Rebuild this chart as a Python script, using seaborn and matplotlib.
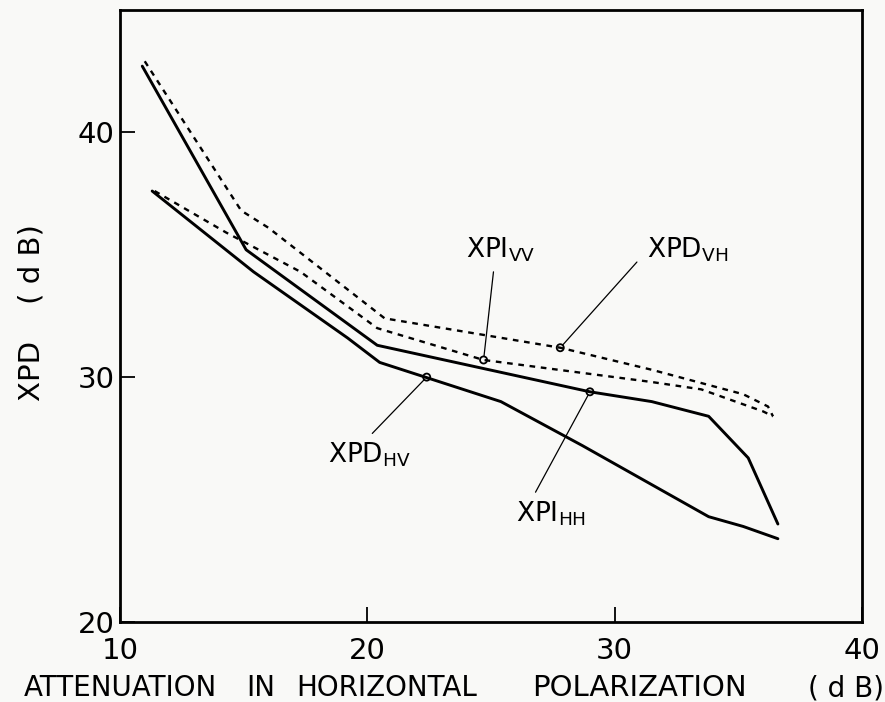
import matplotlib
matplotlib.use("Agg")
import matplotlib.pyplot as plt
import seaborn as sns

# curve values
xpi_hh_x = [10.9, 15.1, 20.4, 29.0, 31.5, 33.8, 35.4, 36.6]
xpi_hh_y = [42.7, 35.2, 31.3, 29.4, 29.0, 28.4, 26.7, 24.0]

xpd_hv_x = [11.3, 15.4, 19.2, 20.5, 25.4, 28.7, 33.8, 35.2, 36.6]
xpd_hv_y = [37.6, 34.3, 31.6, 30.6, 29.0, 27.2, 24.3, 23.9, 23.4]

xpd_vh_x = [11.0, 14.9, 16.0, 20.7, 27.8, 31.5, 35.2, 36.2, 36.4]
xpd_vh_y = [42.9, 36.8, 36.1, 32.4, 31.2, 30.3, 29.3, 28.8, 28.4]

xpi_vv_x = [11.4, 14.3, 17.3, 20.4, 24.7, 31.5, 33.5, 36.0, 36.4]
xpi_vv_y = [37.6, 35.9, 34.3, 32.0, 30.7, 29.8, 29.5, 28.6, 28.4]

# labelled points on each curve
labels = [r"XPI$_{\mathrm{VV}}$", r"XPD$_{\mathrm{VH}}$", r"XPD$_{\mathrm{HV}}$", r"XPI$_{\mathrm{HH}}$"]
mark_x = [24.7, 27.8, 22.4, 29.0]
mark_y = [30.7, 31.2, 30.0, 29.4]
lead_x = [25.1, 30.9, 20.2, 26.8]
lead_y = [34.3, 34.7, 27.7, 25.3]
text_x = [24.0, 31.3, 18.4, 26.0]
text_y = [34.9, 34.9, 26.5, 24.1]

x_ticks = [10, 20, 30, 40]
y_ticks = [20, 30, 40]

# x-axis title, word by word (the lettering is widely spaced)
xlabel_words = ["ATTENUATION", "IN", "HORIZONTAL", "POLARIZATION", "( d B)"]
xlabel_left = [24, 246, 296, 532, 808]
xlabel_size = [20, 20, 20, 21, 20]

sns.set_style("ticks")
plt.rcParams["font.family"] = ["DejaVu Sans"]
plt.rcParams["mathtext.default"] = "regular"
plt.rcParams["text.color"] = "black"
plt.rcParams["xtick.color"] = "black"
plt.rcParams["ytick.color"] = "black"
plt.rcParams["axes.edgecolor"] = "black"

bg = "#f9f9f7"
fig = plt.figure(figsize=(8.85, 7.02), dpi=100, facecolor=bg)
ax = fig.add_axes([0.1356, 0.114, 0.8384, 0.872])
ax.set_facecolor(bg)

solid = dict(color="black", linewidth=2.1, sort=False, estimator=None)
dashed = dict(color="black", linewidth=1.7, sort=False, estimator=None)

sns.lineplot(x=xpi_hh_x, y=xpi_hh_y, ax=ax, **solid)
sns.lineplot(x=xpd_hv_x, y=xpd_hv_y, ax=ax, **solid)
sns.lineplot(x=xpd_vh_x, y=xpd_vh_y, ax=ax, **dashed)
sns.lineplot(x=xpi_vv_x, y=xpi_vv_y, ax=ax, **dashed)
for line in ax.lines[2:4]:
    line.set_linestyle((0, (2.4, 2.4)))

for lab, mx, my, lx, ly, tx, ty in zip(labels, mark_x, mark_y, lead_x, lead_y, text_x, text_y):
    ax.annotate("", xy=(mx, my), xytext=(lx, ly),
                arrowprops=dict(arrowstyle="-", color="black", lw=0.9, shrinkA=0, shrinkB=3))
    ax.text(tx, ty, lab, fontsize=19, ha="left", va="baseline")

ax.scatter(mark_x, mark_y, s=26, facecolor="none", edgecolor="black", linewidth=1.3, zorder=5)

ax.set_xlim(10, 40)
ax.set_ylim(20, 45)
ax.set_xticks(x_ticks)
ax.set_yticks(y_ticks)
ax.tick_params(axis="both", direction="in", length=11, width=1.3, labelsize=21)
ax.tick_params(axis="x", pad=11)
ax.tick_params(axis="y", pad=4)
for sp in ax.spines.values():
    sp.set_visible(True)
    sp.set_linewidth(2.0)

for word, left, size in zip(xlabel_words, xlabel_left, xlabel_size):
    fig.text(left / 885, 0.008, word, fontsize=size, ha="left", va="baseline")
fig.text(0.036, 0.555, "XPD    ( d B)", fontsize=21, rotation=90, ha="center", va="center")

plt.savefig("out.png", dpi=100, facecolor=fig.get_facecolor())
plt.close()
